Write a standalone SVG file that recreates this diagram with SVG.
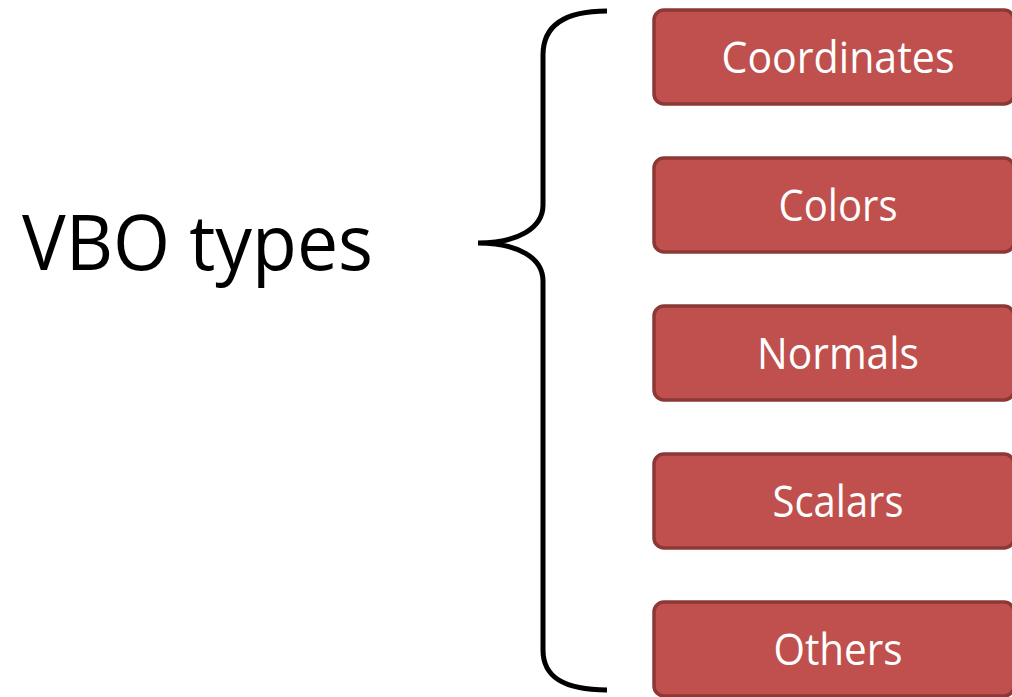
<svg xmlns="http://www.w3.org/2000/svg" width="1012" height="697" viewBox="0 0 1012 697">
<style>
.box{fill:#C0504D;stroke:#8C3836;stroke-width:3.5}
.lbl{font-family:"Open Sans","Noto Sans",sans-serif;font-size:44px;fill:#FFFFFF;text-anchor:middle}
.title{font-family:"Open Sans","Noto Sans",sans-serif;font-size:77px;fill:#000000}
.brace{fill:none;stroke:#000000;stroke-width:5;stroke-linecap:butt}
</style>
<rect width="1012" height="697" fill="#FFFFFF"/>
<g id="title"><text class="title" x="22" y="270" textLength="351" lengthAdjust="spacingAndGlyphs">VBO types</text></g>
<g id="connectors">
<path class="brace" d="M607,11 C565,11 543,25 543,55 L543,205 C543,228 518,243 478,243 C518,243 543,258 543,281 L543,650 C543,678 565,690 607,690"/>
</g>
<g id="node-coordinates"><rect class="box" x="654" y="10" width="360" height="94" rx="10"/><text class="lbl" x="838" y="73" textLength="233" lengthAdjust="spacingAndGlyphs">Coordinates</text></g>
<g id="node-colors"><rect class="box" x="654" y="158" width="360" height="94" rx="10"/><text class="lbl" x="838" y="221" textLength="119" lengthAdjust="spacingAndGlyphs">Colors</text></g>
<g id="node-normals"><rect class="box" x="654" y="306" width="360" height="94" rx="10"/><text class="lbl" x="838" y="369" textLength="162" lengthAdjust="spacingAndGlyphs">Normals</text></g>
<g id="node-scalars"><rect class="box" x="654" y="454" width="360" height="94" rx="10"/><text class="lbl" x="838" y="517" textLength="131" lengthAdjust="spacingAndGlyphs">Scalars</text></g>
<g id="node-others"><rect class="box" x="654" y="602" width="360" height="94" rx="10"/><text class="lbl" x="838" y="665" textLength="129" lengthAdjust="spacingAndGlyphs">Others</text></g>
</svg>
